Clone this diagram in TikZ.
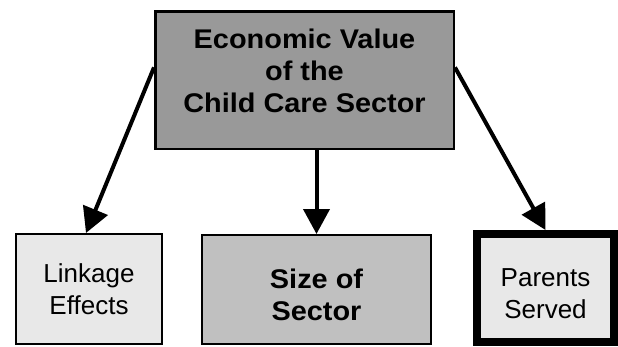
\documentclass[tikz,border=0pt]{standalone}
\usepackage{fontspec}
\setmainfont{Liberation Sans}
\newfontfamily\widebold[FakeStretch=1.07]{Liberation Sans Bold}
\usetikzlibrary{arrows.meta,calc}
\definecolor{topgray}{HTML}{999999}
\definecolor{midgray}{HTML}{C0C0C0}
\definecolor{palegray}{HTML}{E8E8E8}
\begin{document}
\begin{tikzpicture}[x=1pt,y=-1pt,line join=miter,>={Triangle[length=25pt,width=26pt]},
	box/.style={draw,align=center,inner sep=0pt,font=\fontsize{26}{31.5}\selectfont},
	boldbox/.style={box,font=\fontsize{27}{32}\widebold}]
	\useasboundingbox (0,0) rectangle (618,346);
	\path 
	(304.5,80) node[boldbox,fill=topgray,line width=2.5pt,minimum width=298.5pt,minimum height=137.5pt,
		text depth=18pt] (econ) {Economic Value\\of the\\Child Care Sector}
	(89,289) node[box,fill=palegray,line width=2pt,minimum width=146pt,minimum height=110pt] (link) {Linkage\\Effects}
	(316.5,289.5) node[boldbox,fill=midgray,line width=2pt,minimum width=229pt,minimum height=109pt,
		text height=61pt,text depth=0pt] (size) {Size of\\Sector}
	(545.5,288) node[box,fill=palegray,line width=8pt,minimum width=137pt,minimum height=108pt,
		text height=60pt,text depth=0pt] (parents) {Parents\\Served}
	;
	% mui ten
	\draw[->,line width=4pt] ($(econ.north west)!.41!(econ.south west)$)--([xshift=-3pt]link.north);
	\draw[->,line width=4pt] (econ.south -| size.north)--(size.north);
	\draw[->,line width=4pt] ($(econ.north east)!.41!(econ.south east)$)--(parents.north);
\end{tikzpicture}
\end{document}
